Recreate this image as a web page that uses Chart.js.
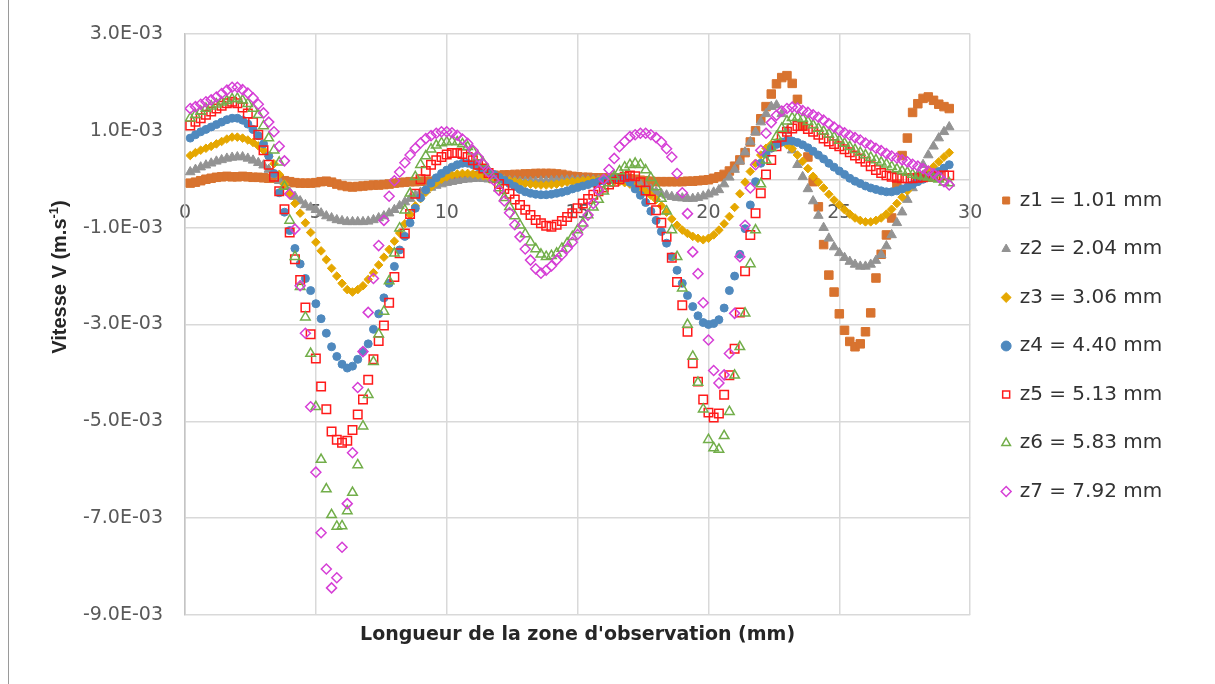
<!DOCTYPE html>
<html>
<head>
<meta charset="utf-8">
<script src="https://cdn.jsdelivr.net/npm/chart.js@4.4.1/dist/chart.umd.min.js"></script>
<style>
  body { margin: 0; background: #fff; }
  #wrap { position: relative; width: 1215px; height: 684px; }
  #frame { position: absolute; left: 8px; top: 0; width: 1px; height: 684px; background: #9a9a9a; }
</style>
</head>
<body>
<div id="wrap">
  <div id="frame"></div>
  <canvas id="chart"></canvas>
</div>
<script>
// position along the observation zone (mm)
const xs = [
  0.2,0.4,0.6,0.8,1.0,1.2,1.4,1.6,1.8,2.0,
  2.2,2.4,2.6,2.8,3.0,3.2,3.4,3.6,3.8,4.0,
  4.2,4.4,4.6,4.8,5.0,5.2,5.4,5.6,5.8,6.0,
  6.2,6.4,6.6,6.8,7.0,7.2,7.4,7.6,7.8,8.0,
  8.2,8.4,8.6,8.8,9.0,9.2,9.4,9.6,9.8,10.0,
  10.2,10.4,10.6,10.8,11.0,11.2,11.4,11.6,11.8,12.0,
  12.2,12.4,12.6,12.8,13.0,13.2,13.4,13.6,13.8,14.0,
  14.2,14.4,14.6,14.8,15.0,15.2,15.4,15.6,15.8,16.0,
  16.2,16.4,16.6,16.8,17.0,17.2,17.4,17.6,17.8,18.0,
  18.2,18.4,18.6,18.8,19.0,19.2,19.4,19.6,19.8,20.0,
  20.2,20.4,20.6,20.8,21.0,21.2,21.4,21.6,21.8,22.0,
  22.2,22.4,22.6,22.8,23.0,23.2,23.4,23.6,23.8,24.0,
  24.2,24.4,24.6,24.8,25.0,25.2,25.4,25.6,25.8,26.0,
  26.2,26.4,26.6,26.8,27.0,27.2,27.4,27.6,27.8,28.0,
  28.2,28.4,28.6,28.8,29.0,29.2
];

// velocities, in 1e-3 m/s
const z1 = [
  -0.08,-0.06,-0.03,0.0,0.02,0.04,0.05,0.06,0.05,0.05,
  0.06,0.05,0.04,0.04,0.03,0.02,0.02,0.0,-0.03,-0.05,
  -0.07,-0.08,-0.08,-0.08,-0.07,-0.05,-0.04,-0.06,-0.1,-0.13,
  -0.15,-0.16,-0.15,-0.14,-0.13,-0.12,-0.12,-0.11,-0.1,-0.08,
  -0.07,-0.06,-0.05,-0.05,-0.04,-0.04,-0.04,-0.03,-0.03,-0.02,
  0.0,0.02,0.03,0.05,0.06,0.07,0.07,0.08,0.08,0.08,
  0.09,0.09,0.1,0.1,0.11,0.11,0.12,0.12,0.12,0.12,
  0.11,0.1,0.08,0.06,0.05,0.04,0.04,0.03,0.03,0.03,
  0.03,0.03,0.02,0.02,0.01,0.0,-0.02,-0.03,-0.04,-0.05,
  -0.05,-0.05,-0.05,-0.05,-0.05,-0.04,-0.04,-0.03,-0.02,-0.01,
  0.02,0.05,0.1,0.17,0.27,0.4,0.55,0.77,1.0,1.25,
  1.5,1.76,1.97,2.1,2.14,1.98,1.65,1.1,0.46,-0.05,
  -0.57,-1.35,-1.98,-2.33,-2.78,-3.12,-3.35,-3.46,-3.4,-3.15,
  -2.76,-2.04,-1.55,-1.15,-0.8,-0.1,0.49,0.85,1.38,1.56,
  1.67,1.7,1.63,1.55,1.5,1.46
];
const z2 = [
  0.15,0.2,0.25,0.29,0.33,0.37,0.4,0.43,0.45,0.46,
  0.46,0.43,0.39,0.34,0.29,0.2,0.1,-0.03,-0.15,-0.27,
  -0.36,-0.45,-0.53,-0.58,-0.63,-0.7,-0.76,-0.8,-0.84,-0.86,
  -0.88,-0.88,-0.88,-0.88,-0.87,-0.84,-0.8,-0.76,-0.7,-0.63,
  -0.55,-0.47,-0.4,-0.33,-0.27,-0.22,-0.17,-0.13,-0.1,-0.07,
  -0.05,-0.03,-0.01,0.0,0.01,0.02,0.01,0.0,0.0,-0.01,
  -0.02,-0.03,-0.04,-0.05,-0.05,-0.05,-0.05,-0.04,-0.04,-0.03,
  -0.03,-0.02,-0.02,-0.02,-0.02,-0.02,-0.02,-0.02,-0.02,-0.02,
  -0.02,-0.02,-0.03,-0.04,-0.04,-0.07,-0.11,-0.16,-0.21,-0.26,
  -0.3,-0.33,-0.36,-0.38,-0.39,-0.4,-0.4,-0.38,-0.35,-0.31,
  -0.27,-0.22,-0.1,0.04,0.2,0.37,0.56,0.77,0.97,1.18,
  1.35,1.5,1.53,1.35,1.0,0.6,0.3,0.05,-0.2,-0.45,
  -0.75,-1.0,-1.22,-1.4,-1.52,-1.62,-1.7,-1.76,-1.8,-1.8,
  -1.76,-1.68,-1.56,-1.38,-1.15,-0.9,-0.68,-0.42,-0.18,0.08,
  0.3,0.5,0.68,0.85,0.98,1.08
];
const z3 = [
  0.49,0.55,0.6,0.64,0.68,0.73,0.78,0.83,0.87,0.87,
  0.85,0.81,0.76,0.69,0.6,0.47,0.32,0.1,-0.1,-0.3,
  -0.5,-0.7,-0.9,-1.1,-1.3,-1.48,-1.66,-1.84,-2.0,-2.15,
  -2.28,-2.33,-2.28,-2.2,-2.07,-1.93,-1.77,-1.61,-1.45,-1.28,
  -1.11,-0.92,-0.73,-0.55,-0.4,-0.27,-0.16,-0.07,0.0,0.05,
  0.09,0.11,0.12,0.12,0.11,0.09,0.07,0.05,0.03,0.01,
  -0.01,-0.03,-0.05,-0.07,-0.09,-0.1,-0.11,-0.12,-0.12,-0.11,
  -0.1,-0.08,-0.06,-0.05,-0.04,-0.03,-0.02,-0.02,-0.02,-0.02,
  -0.03,-0.04,-0.05,-0.07,-0.1,-0.15,-0.2,-0.26,-0.33,-0.42,
  -0.55,-0.68,-0.82,-0.95,-1.05,-1.12,-1.18,-1.22,-1.25,-1.22,
  -1.15,-1.05,-0.92,-0.77,-0.58,-0.3,-0.06,0.16,0.33,0.5,
  0.64,0.72,0.76,0.76,0.71,0.63,0.5,0.37,0.22,0.06,
  -0.06,-0.18,-0.31,-0.43,-0.53,-0.63,-0.72,-0.8,-0.85,-0.88,
  -0.88,-0.85,-0.8,-0.72,-0.62,-0.5,-0.37,-0.24,-0.12,-0.01,
  0.09,0.18,0.26,0.36,0.46,0.55
];
const z4 = [
  0.85,0.92,0.98,1.03,1.08,1.13,1.18,1.23,1.26,1.26,
  1.22,1.14,1.03,0.9,0.73,0.48,0.12,-0.28,-0.68,-1.06,
  -1.43,-1.75,-2.05,-2.3,-2.57,-2.88,-3.18,-3.46,-3.66,-3.82,
  -3.9,-3.86,-3.72,-3.56,-3.4,-3.1,-2.78,-2.45,-2.15,-1.8,
  -1.46,-1.18,-0.9,-0.6,-0.38,-0.22,-0.08,0.03,0.12,0.19,
  0.25,0.3,0.33,0.33,0.3,0.26,0.21,0.15,0.1,0.04,
  -0.02,-0.09,-0.15,-0.21,-0.26,-0.29,-0.31,-0.32,-0.32,-0.31,
  -0.29,-0.27,-0.24,-0.2,-0.17,-0.14,-0.11,-0.08,-0.05,-0.03,
  -0.01,0.01,0.03,0.02,-0.06,-0.2,-0.33,-0.48,-0.66,-0.85,
  -1.08,-1.32,-1.6,-1.88,-2.15,-2.4,-2.63,-2.82,-2.96,-3.0,
  -2.98,-2.9,-2.66,-2.3,-2.0,-1.55,-1.02,-0.53,-0.05,0.33,
  0.52,0.64,0.72,0.77,0.8,0.79,0.76,0.71,0.65,0.58,
  0.5,0.42,0.33,0.25,0.17,0.1,0.02,-0.04,-0.09,-0.14,
  -0.18,-0.21,-0.24,-0.26,-0.26,-0.24,-0.2,-0.16,-0.11,-0.05,
  0.0,0.05,0.1,0.16,0.23,0.3
];
const z5 = [
  1.11,1.19,1.26,1.33,1.4,1.46,1.52,1.57,1.6,1.57,
  1.48,1.36,1.18,0.92,0.6,0.3,0.05,-0.25,-0.62,-1.1,
  -1.65,-2.08,-2.65,-3.2,-3.7,-4.28,-4.75,-5.21,-5.38,-5.44,
  -5.4,-5.18,-4.86,-4.55,-4.14,-3.72,-3.34,-3.02,-2.55,-2.02,
  -1.53,-1.12,-0.72,-0.3,0.0,0.17,0.3,0.39,0.46,0.51,
  0.54,0.54,0.52,0.46,0.39,0.3,0.22,0.13,0.02,-0.1,
  -0.2,-0.3,-0.42,-0.53,-0.63,-0.74,-0.84,-0.91,-0.96,-0.98,
  -0.94,-0.86,-0.78,-0.7,-0.6,-0.5,-0.41,-0.32,-0.25,-0.17,
  -0.11,-0.05,0.0,0.05,0.08,0.06,-0.06,-0.23,-0.42,-0.64,
  -0.9,-1.19,-1.62,-2.12,-2.6,-3.15,-3.8,-4.18,-4.55,-4.82,
  -4.92,-4.84,-4.45,-4.05,-3.5,-2.75,-1.9,-1.15,-0.7,-0.29,
  0.1,0.4,0.68,0.88,0.98,1.05,1.1,1.1,1.04,0.98,
  0.92,0.84,0.78,0.73,0.68,0.62,0.56,0.49,0.43,0.36,
  0.27,0.19,0.13,0.08,0.05,0.03,0.02,0.02,0.02,0.03,
  0.04,0.05,0.06,0.07,0.08,0.08
];
const z6 = [
  1.26,1.33,1.4,1.46,1.51,1.55,1.59,1.62,1.66,1.67,
  1.63,1.56,1.46,1.33,1.1,0.85,0.6,0.35,-0.15,-0.85,
  -1.6,-2.22,-2.85,-3.6,-4.7,-5.79,-6.4,-6.93,-7.17,-7.16,
  -6.85,-6.47,-5.9,-5.1,-4.45,-3.77,-3.2,-2.73,-2.1,-1.53,
  -1.01,-0.64,-0.29,0.05,0.3,0.48,0.62,0.7,0.75,0.77,
  0.78,0.77,0.73,0.67,0.58,0.46,0.33,0.17,0.0,-0.18,
  -0.38,-0.57,-0.76,-0.95,-1.13,-1.3,-1.44,-1.55,-1.6,-1.58,
  -1.53,-1.43,-1.32,-1.19,-1.05,-0.91,-0.74,-0.58,-0.42,-0.25,
  -0.08,0.06,0.17,0.25,0.3,0.33,0.3,0.19,0.03,-0.16,
  -0.4,-0.66,-1.05,-1.6,-2.25,-3.0,-3.66,-4.2,-4.75,-5.38,
  -5.55,-5.58,-5.3,-4.8,-4.05,-3.46,-2.77,-1.75,-1.05,-0.1,
  0.39,0.65,0.88,1.05,1.2,1.27,1.28,1.25,1.19,1.12,
  1.05,0.99,0.93,0.87,0.8,0.74,0.67,0.61,0.55,0.5,
  0.45,0.4,0.35,0.31,0.26,0.21,0.17,0.14,0.1,0.08,
  0.06,0.04,0.02,0.0,-0.06,-0.08
];
const z7 = [
  1.46,1.5,1.55,1.6,1.64,1.7,1.77,1.84,1.9,1.9,
  1.85,1.78,1.68,1.55,1.37,1.18,0.98,0.68,0.38,-0.3,
  -1.03,-2.2,-3.18,-4.7,-6.05,-7.3,-8.05,-8.44,-8.23,-7.6,
  -6.7,-5.65,-4.3,-3.56,-2.75,-2.05,-1.37,-0.85,-0.35,-0.03,
  0.15,0.34,0.5,0.64,0.75,0.84,0.9,0.95,0.98,0.98,
  0.96,0.91,0.83,0.74,0.6,0.46,0.31,0.15,-0.02,-0.23,
  -0.45,-0.69,-0.94,-1.19,-1.44,-1.67,-1.85,-1.94,-1.88,-1.79,
  -1.67,-1.56,-1.43,-1.3,-1.14,-0.95,-0.74,-0.5,-0.23,0.0,
  0.2,0.43,0.67,0.78,0.88,0.92,0.95,0.95,0.92,0.86,
  0.77,0.63,0.46,0.12,-0.28,-0.71,-1.5,-1.95,-2.55,-3.32,
  -3.95,-4.21,-4.04,-3.6,-2.77,-1.6,-0.95,-0.18,0.3,0.6,
  0.95,1.17,1.32,1.41,1.46,1.49,1.47,1.42,1.38,1.33,
  1.28,1.22,1.15,1.08,1.01,0.96,0.91,0.86,0.81,0.75,
  0.7,0.64,0.59,0.53,0.48,0.44,0.4,0.36,0.31,0.27,
  0.22,0.17,0.12,0.05,-0.05,-0.12
];

const seriesLabels = ['z1 = 1.01 mm', 'z2 = 2.04 mm', 'z3 = 3.06 mm', 'z4 = 4.40 mm',
                      'z5 = 5.13 mm', 'z6 = 5.83 mm', 'z7 = 7.92 mm'];
const xTicks = [0, 5, 10, 15, 20, 25, 30];
const yTicks = [-9, -7, -5, -3, -1, 1, 3];   // 1e-3 m/s
const yTickLabels = ['-9.0E-03', '-7.0E-03', '-5.0E-03', '-3.0E-03', '-1.0E-03', '1.0E-03', '3.0E-03'];

// marker look per series (Excel style)
const looks = [
  { style: 'rect',     r: 6,   fill: '#D8732F', line: '#D8732F', w: 1 },
  { style: 'triangle', r: 5.5, fill: '#939393', line: '#939393', w: 1 },
  { style: 'rectRot',  r: 4.3, fill: '#E5A700', line: '#E5A700', w: 1 },
  { style: 'circle',   r: 4,   fill: '#4F89BE', line: '#4F89BE', w: 1 },
  { style: 'rect',     r: 6,   fill: 'rgba(0,0,0,0)', line: '#FF1A1A', w: 1.5 },
  { style: 'triangle', r: 5.5, fill: 'rgba(0,0,0,0)', line: '#72AE4A', w: 1.5 },
  { style: 'rectRot',  r: 5,   fill: 'rgba(0,0,0,0)', line: '#D63FD6', w: 1.5 }
];

const allSeries = [z1, z2, z3, z4, z5, z6, z7];

const datasets = allSeries.map((vals, i) => ({
  label: seriesLabels[i],
  data: xs.map((x, k) => ({ x: x, y: vals[k] / 1000 })),
  xAxisID: 'x',
  yAxisID: 'y',
  order: allSeries.length - 1 - i,   // later series on top, like Excel
  pointStyle: looks[i].style,
  pointRadius: looks[i].r,
  backgroundColor: looks[i].fill,
  borderColor: looks[i].line,
  pointBorderWidth: looks[i].w,
  borderWidth: looks[i].w
}));

const FONT = '"DejaVu Sans", sans-serif';
const GRID = '#D9D9D9';
Chart.defaults.font.family = FONT;

// vertical axis title, drawn by hand to get the superscript
const yTitle = {
  id: 'yTitle',
  afterDraw(chart) {
    const ctx = chart.ctx;
    const big = 'bold 20px "Liberation Sans", Arial, sans-serif';
    const small = 'bold 13px "Liberation Sans", Arial, sans-serif';
    const a = 'Vitesse V (m.s', b = '-1', c = ')';
    ctx.save();
    ctx.font = big;
    const wa = ctx.measureText(a).width, wc = ctx.measureText(c).width;
    ctx.font = small;
    const wb = ctx.measureText(b).width;
    ctx.translate(66, 277);
    ctx.rotate(-Math.PI / 2);
    ctx.fillStyle = '#262626';
    ctx.textBaseline = 'alphabetic';
    let x0 = -(wa + wb + wc) / 2;
    ctx.font = big;
    ctx.fillText(a, x0, 0);
    ctx.font = small;
    ctx.fillText(b, x0 + wa, -8);
    ctx.font = big;
    ctx.fillText(c, x0 + wa + wb, 0);
    ctx.restore();
  }
};

new Chart(document.getElementById('chart'), {
  type: 'scatter',
  data: { datasets: datasets },
  plugins: [yTitle],
  options: {
    responsive: true,
    maintainAspectRatio: false,
    animation: false,
    devicePixelRatio: 1,
    events: [],
    layout: { padding: { left: 0, top: 34, right: 46, bottom: 26 } },
    scales: {
      x: {
        type: 'linear',
        position: { y: 0 },
        min: 0, max: 30,
        afterBuildTicks: s => { s.ticks = xTicks.map(v => ({ value: v })); },
        grid: { color: GRID, lineWidth: 1.5, drawTicks: false },
        border: { display: true, color: GRID, width: 1.5 },
        ticks: { color: '#595959', font: { family: FONT, size: 19 }, padding: 22, maxRotation: 0 }
      },
      y: {
        type: 'linear',
        position: 'left',
        min: -0.009, max: 0.003,
        afterBuildTicks: s => { s.ticks = yTicks.map(v => ({ value: v / 1000 })); },
        afterFit: s => { s.width = 185; },
        grid: { color: GRID, lineWidth: 1.5, drawTicks: false },
        border: { display: true, color: '#C4C4C4', width: 1.5 },
        ticks: {
          color: '#595959', font: { family: FONT, size: 19 }, padding: 22,
          callback: (v, i) => yTickLabels[i]
        }
      },
      xTitle: {
        type: 'linear',
        position: 'bottom',
        afterFit: s => { s.height = 43; },
        grid: { display: false, drawTicks: false },
        border: { display: false },
        ticks: { display: false },
        title: {
          display: true,
          text: "Longueur de la zone d'observation (mm)",
          color: '#262626',
          font: { family: FONT, size: 19, weight: 'bold' },
          padding: { top: 0, bottom: 12 }
        }
      },
      yGap: {
        type: 'linear',
        position: 'right',
        afterFit: s => { s.width = 4; },
        grid: { display: false, drawTicks: false },
        border: { display: false },
        ticks: { display: false }
      }
    },
    plugins: {
      tooltip: { enabled: false },
      legend: {
        position: 'right',
        labels: {
          usePointStyle: true,
          boxWidth: 7,
          boxHeight: 7,
          padding: 28.5,
          color: '#333333',
          font: { family: FONT, size: 20 },
          sort: (a, b) => a.datasetIndex - b.datasetIndex
        }
      }
    }
  }
});
</script>
</body>
</html>
